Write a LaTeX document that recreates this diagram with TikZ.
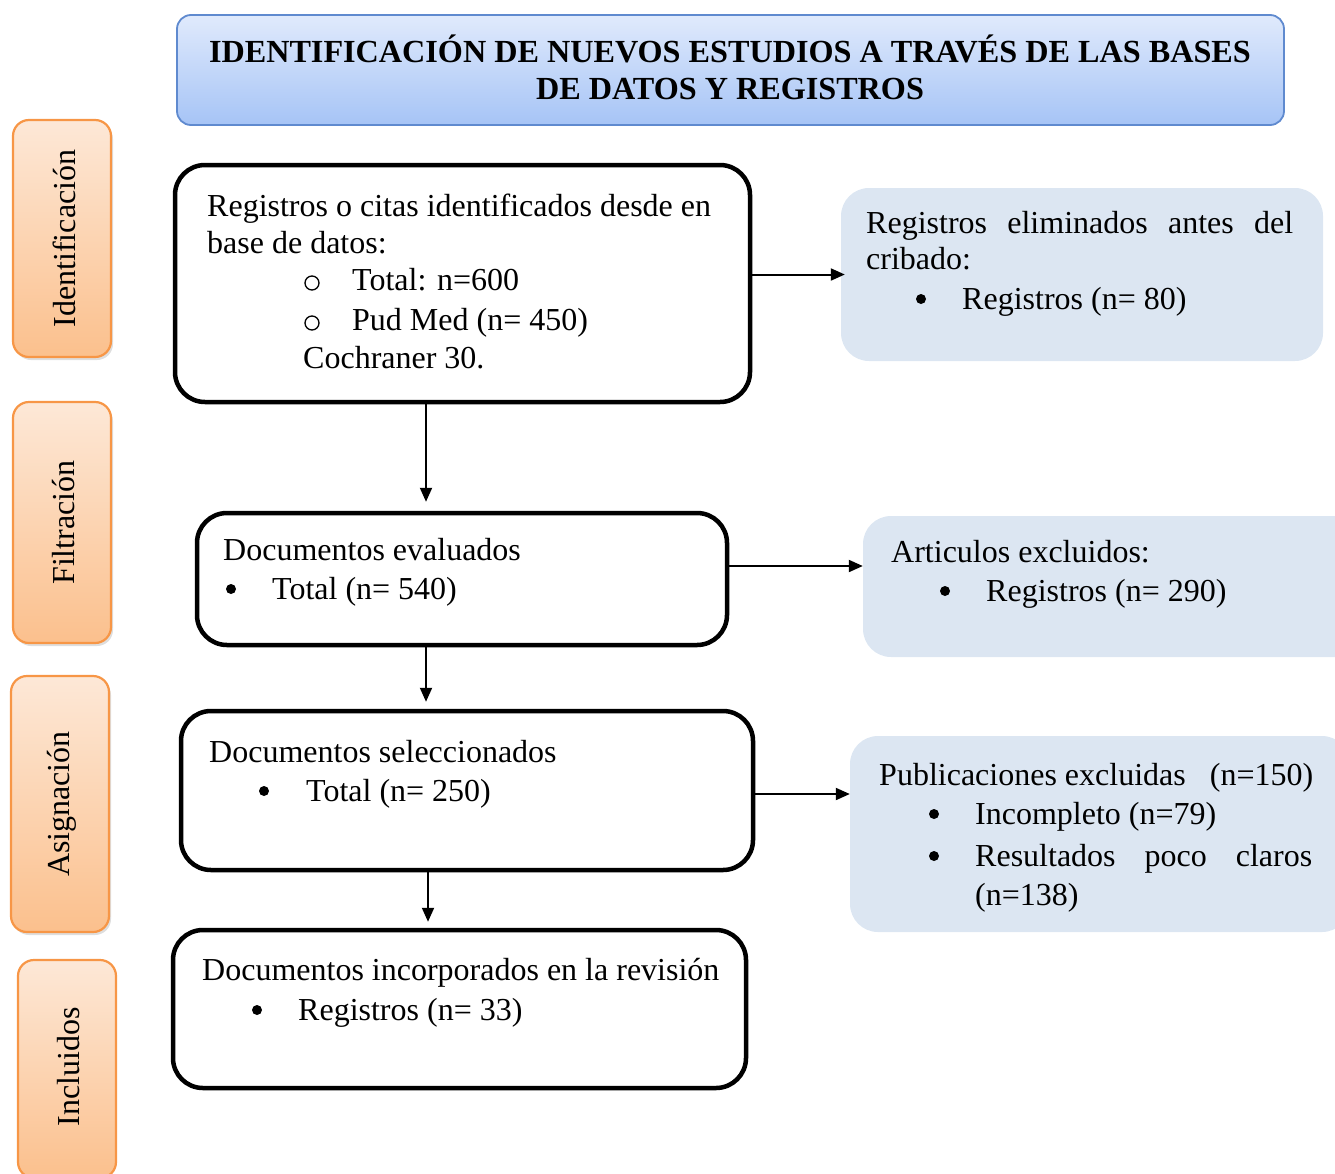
\documentclass[tikz,border=0pt]{standalone}
\usepackage{fontspec}
\setmainfont{Liberation Serif}
\usetikzlibrary{arrows.meta,calc}
\definecolor{sidefill}{HTML}{DCE6F2}
\definecolor{taborange}{HTML}{F79646}
\definecolor{tabtop}{HTML}{FDE8D7}
\definecolor{tabbot}{HTML}{FBC08D}
\definecolor{hdtop}{HTML}{E0EAFC}
\definecolor{hdbot}{HTML}{A6C4F6}
\definecolor{hdborder}{HTML}{5F8ACF}
\begin{document}
\begin{tikzpicture}[x=1pt,y=-1pt,
  mainbox/.style={draw=black,line width=4.5pt,rounded corners=30pt,inner sep=0pt},
  sidebox/.style={fill=sidefill,rounded corners=28pt,inner sep=0pt},
  tabbox/.style={draw=taborange,line width=2.2pt,rounded corners=16pt,top color=tabtop,bottom color=tabbot,inner sep=0pt,minimum width=98pt},
  tabshadow/.style={fill=black,opacity=.13,rounded corners=16pt,inner sep=0pt,minimum width=98pt},
  header/.style={draw=hdborder,line width=1.8pt,rounded corners=14pt,top color=hdtop,bottom color=hdbot,inner sep=0pt},
  txt/.style={anchor=base west,inner sep=0pt,font=\fontsize{32}{38}\selectfont},
  hdtxt/.style={anchor=base,inner sep=0pt,font=\fontsize{32.2}{38}\selectfont\bfseries},
  tabtxt/.style={rotate=90,inner sep=0pt,font=\fontsize{32}{38}\selectfont},
  ring/.style={circle,draw=black,line width=1.3pt,inner sep=0pt,minimum size=14pt},
  dot/.style={circle,fill=black,inner sep=0pt,minimum size=10pt},
  arr/.style={line width=2pt,-{Triangle[length=14pt,width=12pt]}},
]
\useasboundingbox (0,0) rectangle (1335,1173);

% header
\node[header,minimum width=1107pt,minimum height=110pt] (hd) at (730.5,70) {};
\node[hdtxt] (h1) at (730,62.5) {IDENTIFICACIÓN DE NUEVOS ESTUDIOS A TRAVÉS DE LAS BASES};
\node[hdtxt] (h2) at (730,99.5) {DE DATOS Y REGISTROS};

% side tabs
\node[tabshadow,minimum height=237pt] (s1) at (64,241.5) {};
\node[tabbox,minimum height=237pt] (t1) at (62,238.5) {};
\node[tabtxt] (t1t) at (64,238.5) {Identificación};
\node[tabshadow,minimum height=241pt] (s2) at (64,525.5) {};
\node[tabbox,minimum height=241pt] (t2) at (62,522.5) {};
\node[tabtxt] (t2t) at (64,522.5) {Filtración};
\node[tabshadow,minimum height=256pt] (s3) at (62,807) {};
\node[tabbox,minimum height=256pt] (t3) at (60,804) {};
\node[tabtxt] (t3t) at (62,804) {Asignación};
\node[tabbox,minimum height=218pt] (t4) at (67,1069) {};
\node[tabtxt] (t4t) at (69,1067) {Incluidos};

% main boxes
\node[mainbox,minimum width=575pt,minimum height=237pt] (b1) at (462.5,283.5) {};
\node[mainbox,minimum width=530pt,minimum height=132pt] (b2) at (462,579) {};
\node[mainbox,minimum width=572pt,minimum height=159pt] (b3) at (467,790.5) {};
\node[mainbox,minimum width=573pt,minimum height=158pt] (b4) at (459.5,1009) {};

% side boxes
\node[sidebox,minimum width=482pt,minimum height=173pt] (r1) at (1082,274.5) {};
\node[sidebox,minimum width=500pt,minimum height=141pt] (r2) at (1113,586.5) {};
\node[sidebox,minimum width=500pt,minimum height=196pt] (r3) at (1100,834) {};

% texts box 1
\node[txt] (b1l1) at (207,216) {Registros o citas identificados desde en};
\node[txt] (b1l2) at (207,253) {base de datos:};
\node[ring] (b1o1) at (312,283) {};
\node[txt] (b1l3) at (352,290) {Total: n=600};
\node[ring] (b1o2) at (312,323) {};
\node[txt] (b1l4) at (352,330) {Pud Med (n= 450)};
\node[txt] (b1l5) at (303,368) {Cochraner 30.};

% texts box 2
\node[txt] (b2l1) at (223,560) {Documentos evaluados};
\node[dot] (b2b1) at (231,589) {};
\node[txt] (b2l2) at (272,599) {Total (n= 540)};

% texts box 3
\node[txt] (b3l1) at (209,762) {Documentos seleccionados};
\node[dot] (b3b1) at (264,791) {};
\node[txt] (b3l2) at (306,801) {Total (n= 250)};

% texts box 4
\node[txt] (b4l1) at (202,980) {Documentos incorporados en la revisión};
\node[dot] (b4b1) at (257,1010) {};
\node[txt] (b4l2) at (298,1020) {Registros (n= 33)};

% right box 1
\node[txt] (r1l1) at (866,233) {\makebox[427pt][s]{Registros eliminados antes del}};
\node[txt] (r1l2) at (866,269) {cribado:};
\node[dot] (r1b1) at (921,299) {};
\node[txt] (r1l3) at (962,309) {Registros (n= 80)};

% right box 2
\node[txt] (r2l1) at (891,562) {Articulos excluidos:};
\node[dot] (r2b1) at (945,591) {};
\node[txt] (r2l2) at (986,601) {Registros (n= 290)};

% right box 3
\node[txt] (r3l1) at (879,785) {\makebox[434pt][l]{Publicaciones excluidas\hfill(n=150)}};
\node[dot] (r3b1) at (934,814) {};
\node[txt] (r3l2) at (975,824) {Incompleto (n=79)};
\node[dot] (r3b2) at (934,856) {};
\node[txt] (r3l3) at (975,866) {\makebox[337pt][s]{Resultados poco claros}};
\node[txt] (r3l4) at (975,905) {(n=138)};

% connectors
\coordinate (xa) at (426,0);
\coordinate (xb) at (428,0);
\coordinate (ya) at (0,566);
\coordinate (yb) at (0,794);
\draw[arr] (b1.south -| xa) -- ([yshift=9pt]b2.north -| xa);
\draw[arr] (b2.south -| xa) -- ([yshift=7pt]b3.north -| xa);
\draw[arr] (b3.south -| xb) -- ([yshift=6pt]b4.north -| xb);
\draw[arr] (b1.east |- r1.west) -- ([xshift=4pt]r1.west);
\draw[arr] (b2.east |- ya) -- (r2.west |- ya);
\draw[arr] (b3.east |- yb) -- (r3.west |- yb);
\end{tikzpicture}
\end{document}
